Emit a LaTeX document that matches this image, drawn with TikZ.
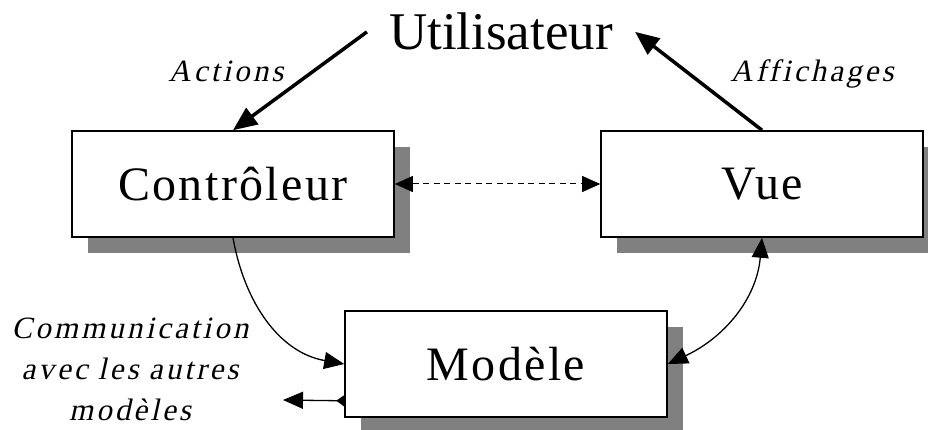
\documentclass[tikz,border=0pt]{standalone}
\usepackage{fontspec}
\setmainfont{Liberation Serif}
\newfontfamily\boxfont[LetterSpace=5]{Liberation Serif}
\newfontfamily\notefont[LetterSpace=10,Ligatures=NoCommon,FakeSlant=0.22]{Liberation Serif}
\usepackage{tikz}
\usetikzlibrary{arrows.meta, shadows}
\tikzstyle{actor}     = [font=\fontsize{53}{60}\selectfont, inner sep=22pt]
\tikzstyle{module}    = [rectangle, minimum width=322pt, minimum height=106pt, text centered, draw=black, line width=1.6pt, fill=white, font=\boxfont\fontsize{48}{56}\selectfont, drop shadow={shadow xshift=16pt, shadow yshift=-16pt, fill=black!50, opacity=1}]
\tikzstyle{note}      = [font=\notefont\fontsize{31}{41}\selectfont, inner sep=0pt]
\tikzstyle{bigarrow}  = [line width=3.5pt, -{Triangle[length=24pt,width=20pt]}]
\tikzstyle{arrow}     = [line width=1.3pt, -{Triangle[length=20pt,width=17pt]}]
\tikzstyle{twoway}    = [line width=1.3pt, {Triangle[length=20pt,width=17pt]}-{Triangle[length=20pt,width=17pt]}]
\tikzstyle{dasharrow} = [line width=1pt, dash pattern=on 6pt off 4.5pt, {Triangle[length=18pt,width=16pt]}-{Triangle[length=18pt,width=16pt]}]
\tikzstyle{outarrow}  = [line width=1.3pt, {Triangle[reversed,length=8pt,width=11pt]}-{Triangle[length=20pt,width=17pt]}]

\begin{document}
\begin{tikzpicture}[x=1pt, y=1pt, node distance=10pt]
    \useasboundingbox (0,0) rectangle (928,-430);
    \node (ctrl) [module] at (233,-184)                              {Contrôleur};
    \node (vue)  [module, right of=ctrl, xshift=519pt]               {Vue};
    \node (mod)  [module, below of=ctrl, xshift=273pt, yshift=-170pt] {Modèle};
    \node (user) [actor, anchor=base] at (501,-50) {Utilisateur};
    \node (act)  [note, anchor=base]  at (226,-82) {Actions};
    \node (aff)  [note, anchor=base]  at (812,-82) {Affichages};
    \node (comm) [note, anchor=base, text width=260pt, align=center] at (130,-338)
        {Communication\\avec les autres\\modèles};
    \coordinate (others) at (283,-400);

    \draw [bigarrow]  (user.west) -- (ctrl.north);
    \draw [bigarrow]  (vue.north) -- (user.east);
    \draw [dasharrow] (ctrl.east) -- (vue.west);
    \draw [arrow]     (ctrl.south) to[out=-80, in=170] (mod.west);
    \draw [twoway]    (vue.south) to[out=-95, in=25] (mod.east);
    \draw [outarrow]  ([yshift=17pt]mod.south west) -- (others);
\end{tikzpicture}
\end{document}
